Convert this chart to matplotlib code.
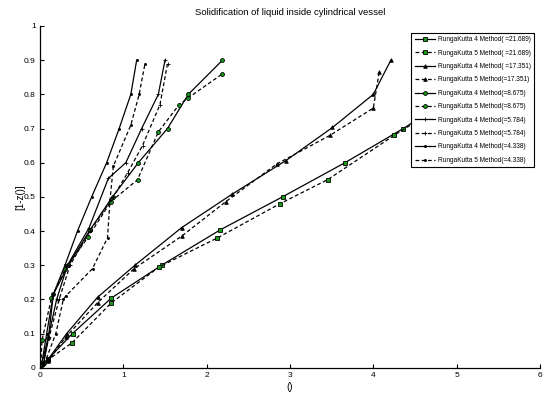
import matplotlib
matplotlib.use("Agg")
import matplotlib.pyplot as plt
from matplotlib import font_manager

names = {f.name for f in font_manager.fontManager.ttflist}
fam = ['Liberation Sans Narrow'] if 'Liberation Sans Narrow' in names else []
plt.rcParams['font.family'] = fam + ['Liberation Sans', 'DejaVu Sans']
narrow = bool(fam)

# ---- data (x = time-like abscissa, y = 1-z) ----
sq4_x = [0.02, 0.096, 0.39, 0.857, 1.46, 2.16, 2.91, 3.66, 4.36, 5.0, 5.6]
sq4_y = [0.01, 0.025, 0.10, 0.204, 0.30, 0.403, 0.50, 0.60, 0.70, 0.80, 0.90]
sq5_x = [0.02, 0.09, 0.385, 0.857, 1.43, 2.13, 2.88, 3.45, 4.25, 4.9, 5.5]
sq5_y = [0.01, 0.022, 0.073, 0.19, 0.295, 0.38, 0.48, 0.55, 0.68, 0.78, 0.88]

tr4_x = [0.01, 0.10, 0.32, 0.69, 1.14, 1.70, 2.30, 2.95, 3.51, 4.00, 4.21]
tr4_y = [0.005, 0.025, 0.10, 0.206, 0.30, 0.41, 0.507, 0.606, 0.703, 0.80, 0.90]
tr5_x = [0.01, 0.10, 0.31, 0.69, 1.13, 1.70, 2.23, 2.84, 3.48, 4.00, 4.07]
tr5_y = [0.005, 0.02, 0.09, 0.19, 0.29, 0.385, 0.486, 0.596, 0.68, 0.76, 0.865]

ci4_x = [0.045, 0.10, 0.16, 0.34, 0.60, 0.87, 1.18, 1.53, 1.78, 2.19]
ci4_y = [0.013, 0.086, 0.215, 0.30, 0.403, 0.50, 0.60, 0.70, 0.80, 0.90]
ci5_x = [0.01, 0.024, 0.136, 0.30, 0.58, 0.85, 1.17, 1.42, 1.67, 1.78, 2.19]
ci5_y = [0.01, 0.08, 0.203, 0.288, 0.383, 0.486, 0.55, 0.69, 0.77, 0.79, 0.86]

pl4_x = [0.02, 0.10, 0.20, 0.33, 0.59, 0.82, 1.03, 1.22, 1.42, 1.50]
pl4_y = [0.01, 0.09, 0.20, 0.30, 0.41, 0.554, 0.60, 0.70, 0.80, 0.90]
pl5_x = [0.03, 0.11, 0.23, 0.36, 0.60, 0.88, 1.05, 1.23, 1.44, 1.53]
pl5_y = [0.01, 0.09, 0.20, 0.30, 0.40, 0.50, 0.57, 0.65, 0.77, 0.89]

dt4_x = [0.02, 0.08, 0.16, 0.30, 0.45, 0.62, 0.80, 0.95, 1.09, 1.16]
dt4_y = [0.01, 0.10, 0.215, 0.30, 0.40, 0.50, 0.60, 0.70, 0.80, 0.90]
dt5_x = [0.05, 0.19, 0.28, 0.31, 0.63, 0.81, 0.84, 0.88, 1.09, 1.19, 1.26]
dt5_y = [0.01, 0.10, 0.20, 0.21, 0.29, 0.38, 0.49, 0.59, 0.71, 0.80, 0.89]

labels = [
    "RungaKutta 4 Method( =21.689)", "RungaKutta 5 Method( =21.689)",
    "RungaKutta 4 Method( =17.351)", "RungaKutta 5 Method(=17.351)",
    "RungaKutta 4 Method(=8.675)", "RungaKutta 5 Method(=8.675)",
    "RungaKutta 4 Method(=5.784)", "RungaKutta 5 Method(=5.784)",
    "RungaKutta 4 Method(=4.338)", "RungaKutta 5 Method(=4.338)",
]
x_ticks = [0, 1, 2, 3, 4, 5, 6]
y_ticks = [0, 0.1, 0.2, 0.3, 0.4, 0.5, 0.6, 0.7, 0.8, 0.9, 1]
y_tick_labels = ["0", "0.1", "0.2", "0.3", "0.4", "0.5", "0.6", "0.7", "0.8", "0.9", "1"]

series = [
    (sq4_x, sq4_y, '-', 's', '#1a9a1a'), (sq5_x, sq5_y, '--', 's', '#1a9a1a'),
    (tr4_x, tr4_y, '-', '^', 'black'), (tr5_x, tr5_y, '--', '^', 'black'),
    (ci4_x, ci4_y, '-', 'o', '#1a9a1a'), (ci5_x, ci5_y, '--', 'o', '#1a9a1a'),
    (pl4_x, pl4_y, '-', '+', 'black'), (pl5_x, pl5_y, '--', '+', 'black'),
    (dt4_x, dt4_y, '-', '.', 'black'), (dt5_x, dt5_y, '--', '.', 'black'),
]

fig = plt.figure(figsize=(5.44, 3.98), dpi=100)
ax = fig.add_axes([40 / 544, 1 - 367.7 / 398, 500 / 544, 341.7 / 398])

for (xs, ys, ls, mk, fc), lab in zip(series, labels):
    ms = {'s': 2.8, 'o': 2.8, '^': 2.6, '+': 3.2, '.': 3.0}[mk]
    line, = ax.plot(xs, ys, linestyle=ls, color='black', linewidth=0.9,
                    marker=mk, markersize=ms, markerfacecolor=fc,
                    markeredgecolor='black', markeredgewidth=0.6, label=lab)
    if ls == '--':
        line.set_dashes((3, 2))

ax.set_xlim(0, 6)
ax.set_ylim(0, 1)
ax.set_xticks(x_ticks)
ax.set_xticklabels([str(t) for t in x_ticks])
ax.set_yticks(y_ticks)
ax.set_yticklabels(y_tick_labels)
ax.tick_params(direction='in', length=3, width=0.8, labelsize=6, pad=3)
for s in ('top', 'right'):
    ax.spines[s].set_visible(False)
for s in ('left', 'bottom'):
    ax.spines[s].set_linewidth(0.9)

ax.set_title("Solidification of liquid inside cylindrical vessel",
             fontsize=7.5 if narrow else 6.8, pad=8)
ax.set_xlabel("()", fontsize=7, labelpad=2)
ax.set_ylabel("[1-z()]", fontsize=7, labelpad=-1)

leg = ax.legend(loc='upper right', bbox_to_anchor=(534 / 544, 1 - 33 / 398),
                bbox_transform=fig.transFigure, fontsize=5.2 if narrow else 4.7,
                frameon=True, fancybox=False, edgecolor='black', framealpha=1,
                handlelength=3.2, labelspacing=0.98, borderpad=0.5,
                handletextpad=0.35, borderaxespad=0)
leg.get_frame().set_linewidth(0.8)

fig.savefig("out.png", dpi=100)
